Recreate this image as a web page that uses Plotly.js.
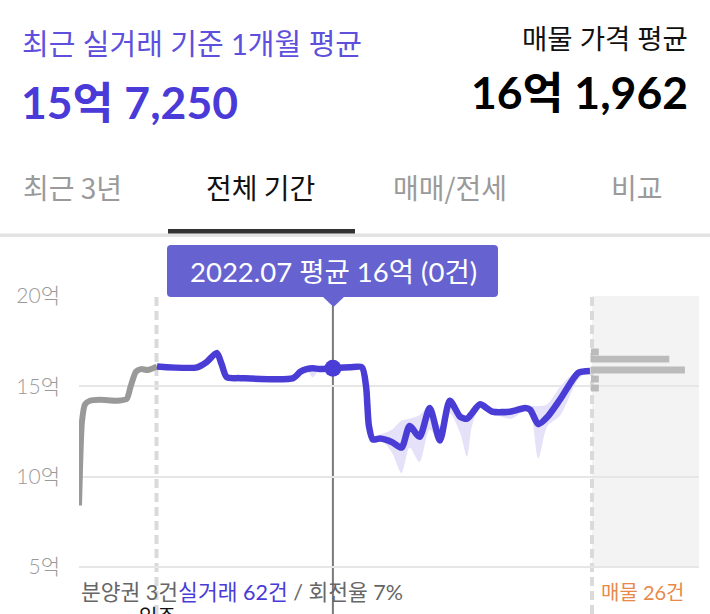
<!DOCTYPE html>
<html>
<head>
<meta charset="utf-8">
<script src="https://cdn.plot.ly/plotly-3.0.1.min.js"></script>
<style>
html,body{margin:0;padding:0;background:#fff;}
#chart{width:710px;height:614px;}
</style>
</head>
<body>
<div id="chart"></div>
<script>
// ---- data ----
const presaleDates = ['2019-11-01','2019-11-05','2019-11-12','2019-11-24','2019-12-13','2020-01-20','2020-03-28','2020-05-02','2020-05-17','2020-06-06','2020-06-25','2020-07-21','2020-08-26'];
const presaleValues = [8.4,10.5,13.0,14.0,14.2,14.25,14.2,14.3,15.0,15.8,15.95,15.9,16.1];

const realDates = ['2020-08-26','2021-01-27','2021-03-05','2021-04-12','2021-05-01','2021-05-20','2021-07-09','2022-01-30','2022-02-26','2022-03-22','2022-04-15','2022-05-11','2022-07-01','2022-09-04','2022-10-20','2022-11-05','2022-11-16','2022-12-01','2022-12-28','2023-02-13','2023-03-21','2023-04-21','2023-05-29','2023-07-07','2023-08-15','2023-09-22','2023-11-01','2023-11-27','2023-12-16','2024-01-16','2024-03-02','2024-05-14','2024-07-07','2024-07-26','2024-08-26','2024-09-30','2024-11-19','2025-01-27','2025-03-12'];
const realAvg   = [16.1,16.05,16.35,16.85,16.2,15.5,15.45,15.45,15.8,15.95,16.0,15.95,16.0,16.05,16.05,15.0,12.8,12.05,12.1,11.9,11.6,12.8,12.2,13.8,12.0,14.2,13.3,13.2,13.5,14.0,13.6,13.6,13.8,13.7,12.9,13.3,14.3,15.75,15.85];
const realLow   = [16.1,16.05,16.35,16.85,16.2,15.5,15.45,15.45,15.8,15.9,15.5,15.9,16.0,16.05,16.05,15.0,12.8,12.05,12.1,11.3,10.2,11.6,10.8,12.6,12.0,13.5,12.4,11.1,12.8,13.8,13.5,13.2,13.7,13.6,11.0,12.8,13.4,15.4,15.85];
const realHigh  = [16.1,16.05,16.35,16.85,16.2,15.5,15.45,15.45,15.8,16.0,16.0,16.0,16.0,16.05,16.05,15.0,12.8,12.1,12.3,12.6,13.1,13.2,13.4,13.9,12.8,14.2,13.6,13.3,13.6,14.1,13.7,13.7,13.9,13.9,13.9,14.0,15.0,15.9,15.85];

const selectedDate = ['2022-07-01'];
const selectedValue = [16.0];

const listingPrices = [16.9,16.5,15.9,15.4,14.9];
const listingCounts = [1,10,12,1,1];

const moveInDate = '2020-08-24';
const todayDate = '2025-03-20';
const xStart = '2019-11-01', xEnd = '2026-05-04';

const yTickVals = [5,10,15,20];
const yTickText = ['5억','10억','15억','20억'];

// ---- layout helpers (pixel -> paper) ----
const L=79, R=699, T=296, B=614;
const X = px => (px-L)/(R-L);
const Y = py => (B-py)/(B-T);
function roundRect(x0,y0,x1,y1,r){
  return `M ${X(x0+r)} ${Y(y0)} L ${X(x1-r)} ${Y(y0)} Q ${X(x1)} ${Y(y0)} ${X(x1)} ${Y(y0+r)} L ${X(x1)} ${Y(y1-r)} Q ${X(x1)} ${Y(y1)} ${X(x1-r)} ${Y(y1)} L ${X(x0+r)} ${Y(y1)} Q ${X(x0)} ${Y(y1)} ${X(x0)} ${Y(y1-r)} L ${X(x0)} ${Y(y0+r)} Q ${X(x0)} ${Y(y0)} ${X(x0+r)} ${Y(y0)} Z`;
}

const PURPLE = '#4a3dd6';
const FONT = 'Lato, "Noto Sans CJK KR", sans-serif';
const KFONT = '"Noto Sans CJK KR", Lato, sans-serif';

const traces = [
  {x: listingCounts, y: listingPrices, type:'bar', orientation:'h', xaxis:'x2', yaxis:'y', width:0.38, marker:{color:'#bbbbbb', line:{width:0}}, hoverinfo:'skip', showlegend:false},
  {x: realDates, y: realLow, type:'scatter', mode:'lines', line:{width:0, shape:'spline', smoothing:0.8}, hoverinfo:'skip', showlegend:false},
  {x: realDates, y: realHigh, type:'scatter', mode:'lines', fill:'tonexty', fillcolor:'#e4e1f8', line:{width:0, shape:'spline', smoothing:0.8}, hoverinfo:'skip', showlegend:false},
  {x: presaleDates, y: presaleValues, type:'scatter', mode:'lines', line:{color:'#999999', width:6, shape:'spline', smoothing:0.6}, hoverinfo:'skip', showlegend:false},
  {x: realDates, y: realAvg, type:'scatter', mode:'lines', line:{color:PURPLE, width:6.5, shape:'spline', smoothing:0.7}, hoverinfo:'skip', showlegend:false},
  {x: selectedDate, y: selectedValue, type:'scatter', mode:'markers', marker:{color:PURPLE, size:17, line:{width:0}}, hoverinfo:'skip', showlegend:false}
];

const layout = {
  width:710, height:614,
  margin:{l:L, r:710-R, t:T, b:0},
  paper_bgcolor:'#ffffff', plot_bgcolor:'rgba(0,0,0,0)',
  showlegend:false,
  xaxis:{type:'date', domain:[0,1], range:[xStart,xEnd], showgrid:false, zeroline:false, showticklabels:false, ticks:'', showline:false, fixedrange:true},
  xaxis2:{domain:[X(591),1], range:[0,13.8], showgrid:false, zeroline:false, showticklabels:false, ticks:'', showline:false, anchor:'y', fixedrange:true},
  yaxis:{range:[20-(B-T)/18.05, 20], tickvals:yTickVals, ticktext:yTickText, showgrid:true, gridcolor:'#e6e6e6', gridwidth:2, zeroline:false, showline:false, ticks:'', ticklabelstandoff:18, tickfont:{family:FONT, size:21, color:'#9a9a9a', weight:300}, fixedrange:true},
  shapes:[
    {type:'rect', xref:'x', yref:'paper', x0:todayDate, x1:xEnd, y0:Y(567), y1:1, fillcolor:'#f3f3f3', line:{width:0}, layer:'below'},
    {type:'line', xref:'x', yref:'paper', x0:moveInDate, x1:moveInDate, y0:0, y1:1, line:{color:'#dadada', width:4, dash:'9px,5px'}, layer:'below'},
    {type:'line', xref:'x', yref:'paper', x0:todayDate, x1:todayDate, y0:0, y1:1, line:{color:'#dadada', width:4, dash:'9px,5px'}, layer:'below'},
    {type:'line', xref:'x', yref:'paper', x0:selectedDate[0], x1:selectedDate[0], y0:0, y1:Y(306), line:{color:'#7a7a7a', width:2}, layer:'below'},
    {type:'rect', xref:'paper', yref:'paper', x0:X(0), x1:X(710), y0:Y(237), y1:Y(233.5), fillcolor:'#e3e3e3', line:{width:0}},
    {type:'rect', xref:'paper', yref:'paper', x0:X(168), x1:X(355), y0:Y(233.5), y1:Y(229), fillcolor:'#333333', line:{width:0}},
    {type:'path', xref:'paper', yref:'paper', path:roundRect(167,245,498,297,4), fillcolor:'#6663d1', line:{width:0}},
    {type:'path', xref:'paper', yref:'paper', path:`M ${X(322)} ${Y(296)} L ${X(345)} ${Y(296)} L ${X(333.5)} ${Y(307)} Z`, fillcolor:'#6663d1', line:{width:0}}
  ],
  annotations:[
    {xref:'paper', yref:'paper', x:X(20), y:Y(44), xanchor:'left', yanchor:'middle', showarrow:false, text:'최근 실거래 기준 1개월 평균', font:{family:FONT, size:29, color:'#5e50dc'}},
    {xref:'paper', yref:'paper', x:X(19), y:Y(101), xanchor:'left', yanchor:'middle', showarrow:false, text:'<b>15억 7,250</b>', font:{family:FONT, size:44.5, color:'#4a3ad8'}},
    {xref:'paper', yref:'paper', x:X(690), y:Y(38), xanchor:'right', yanchor:'middle', showarrow:false, text:'매물 가격 평균', font:{family:FONT, size:27.5, color:'#111111'}},
    {xref:'paper', yref:'paper', x:X(690), y:Y(91), xanchor:'right', yanchor:'middle', showarrow:false, text:'<b>16억 1,962</b>', font:{family:FONT, size:44.5, color:'#000000'}},
    {xref:'paper', yref:'paper', x:X(72), y:Y(187), xanchor:'center', yanchor:'middle', showarrow:false, text:'최근 3년', font:{family:KFONT, size:28, color:'#9a9a9a'}},
    {xref:'paper', yref:'paper', x:X(260), y:Y(187), xanchor:'center', yanchor:'middle', showarrow:false, text:'전체 기간', font:{family:KFONT, size:28, color:'#111111'}},
    {xref:'paper', yref:'paper', x:X(450), y:Y(187), xanchor:'center', yanchor:'middle', showarrow:false, text:'매매/전세', font:{family:KFONT, size:28, color:'#9a9a9a'}},
    {xref:'paper', yref:'paper', x:X(637), y:Y(187), xanchor:'center', yanchor:'middle', showarrow:false, text:'비교', font:{family:KFONT, size:28, color:'#9a9a9a'}},
    {xref:'paper', yref:'paper', x:X(333), y:Y(271), xanchor:'center', yanchor:'middle', showarrow:false, text:'2022.07 평균 16억 (0건)', font:{family:FONT, size:27.5, color:'#ffffff'}},
    {xref:'paper', yref:'paper', x:X(79), y:Y(592), xanchor:'left', yanchor:'middle', showarrow:false, text:'분양권 3건<span style="color:#4a3ad8">실거래 62건</span> / 회전율 7%', font:{family:FONT, size:21.5, color:'#666666'}},
    {xref:'paper', yref:'paper', x:X(687), y:Y(592), xanchor:'right', yanchor:'middle', showarrow:false, text:'매물 26건', font:{family:FONT, size:20, color:'#e8894a'}},
    {xref:'paper', yref:'paper', x:X(157), y:Y(602), xanchor:'center', yanchor:'top', showarrow:false, text:'입주', font:{family:FONT, size:20, color:'#111111'}}
  ]
};

Plotly.newPlot('chart', traces, layout, {displayModeBar:false, staticPlot:true});
</script>
</body>
</html>
